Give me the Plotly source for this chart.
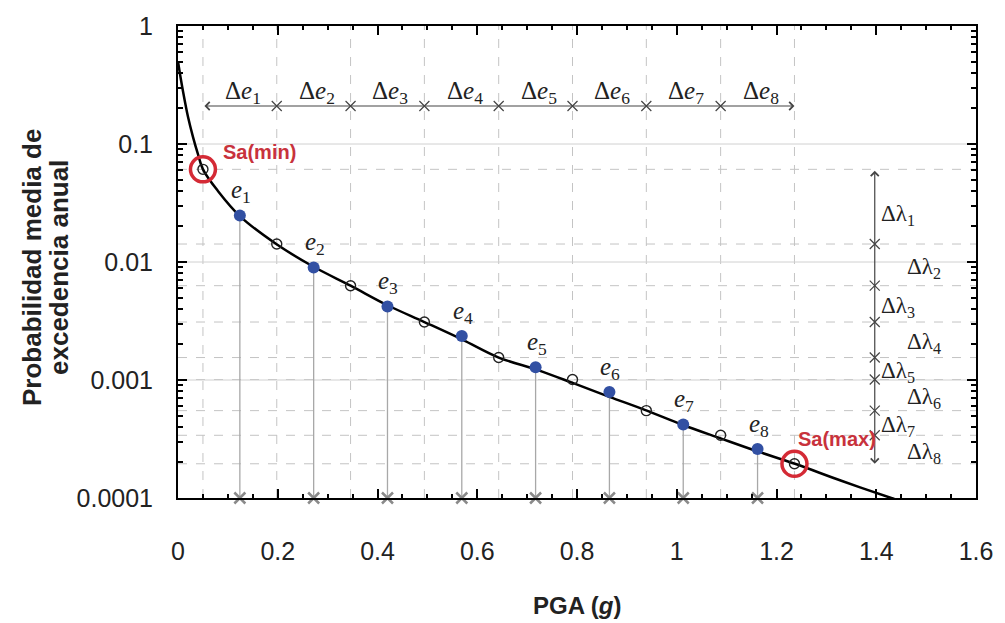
import numpy as np
import plotly.graph_objects as go

# ---------------- data ----------------
curve_x = [0.0, 0.005, 0.01, 0.02, 0.03, 0.04, 0.05, 0.08, 0.124, 0.197, 0.27, 0.346,
           0.42, 0.494, 0.57, 0.643, 0.72, 0.79, 0.865, 0.94, 1.01, 1.088, 1.16, 1.237,
           1.33, 1.43, 1.5]
curve_y = [0.5, 0.37, 0.28, 0.17, 0.115, 0.082, 0.061, 0.04, 0.0245, 0.0142, 0.0092, 0.0063,
           0.0043, 0.0031, 0.0022, 0.00155, 0.00122, 0.00095, 0.00072, 0.00055, 0.00042,
           0.00032, 0.00025, 0.000195, 0.00014, 0.0001, 0.00008]

bound_x = [0.05, 0.198, 0.346, 0.494, 0.643, 0.791, 0.939, 1.088, 1.236]
bound_y = [0.061, 0.0142, 0.0063, 0.0031, 0.00155, 0.00101, 0.00055, 0.00034, 0.000195]

e_x = [0.124, 0.272, 0.42, 0.569, 0.717, 0.865, 1.013, 1.162]
e_y = [0.0248, 0.0090, 0.0042, 0.00236, 0.00128, 0.00079, 0.00042, 0.00026]

e_labels = [f"<i>e</i><sub>{i}</sub>" for i in range(1, 9)]
de_labels = [f"Δ<i>e</i><sub>{i}</sub>" for i in range(1, 9)]
dl_labels = [f"Δλ<sub>{i}</sub>" for i in range(1, 9)]

x_ticks = [0, 0.2, 0.4, 0.6, 0.8, 1.0, 1.2, 1.4, 1.6]
x_ticktext = ["0", "0.2", "0.4", "0.6", "0.8", "1", "1.2", "1.4", "1.6"]
y_ticks = [0.0001, 0.001, 0.01, 0.1, 1]
y_ticktext = ["0.0001", "0.001", "0.01", "0.1", "1"]

y_title_lines = ["Probabilidad media de", "excedencia anual"]
x_title = "PGA (<i>g</i>)"

de_arrow_y = 0.21       # level of the Δe arrow
dl_arrow_x = 1.397      # position of the Δλ arrow
x_min, x_max = 0.0, 1.6
y_min, y_max = 0.0001, 1.0

# ---------------- figure ----------------
fig = go.Figure()

GRID = "#c4c4c4"
vx, vy = [], []
for b in bound_x:
    vx += [b, b, None]
    vy += [y_min, y_max, None]
fig.add_trace(go.Scatter(x=vx, y=vy, mode="lines",
                         line=dict(color=GRID, width=1, dash="dash"), hoverinfo="skip"))
hx, hy = [], []
for b in bound_y:
    hx += [x_min, x_max, None]
    hy += [b, b, None]
fig.add_trace(go.Scatter(x=hx, y=hy, mode="lines",
                         line=dict(color=GRID, width=1, dash="dash"), hoverinfo="skip"))
dx, dy = [], []
for t in y_ticks[1:-1]:
    dx += [x_min, x_max, None]
    dy += [t, t, None]
fig.add_trace(go.Scatter(x=dx, y=dy, mode="lines",
                         line=dict(color="#d0d0d0", width=1), hoverinfo="skip"))

sx, sy = [], []
for xx, yy in zip(e_x, e_y):
    sx += [xx, xx, None]
    sy += [y_min, yy, None]
fig.add_trace(go.Scatter(x=sx, y=sy, mode="lines",
                         line=dict(color="#a8a8a8", width=1.3), hoverinfo="skip"))

fig.add_trace(go.Scatter(x=curve_x, y=curve_y, mode="lines", line_shape="spline",
                         line=dict(color="black", width=2.5), hoverinfo="skip"))

fig.add_trace(go.Scatter(x=bound_x, y=bound_y, mode="markers",
                         marker=dict(symbol="circle-open", size=10, color="#222",
                                     line=dict(width=1.4)), hoverinfo="skip"))
fig.add_trace(go.Scatter(x=[bound_x[0], bound_x[-1]], y=[bound_y[0], bound_y[-1]],
                         mode="markers",
                         marker=dict(symbol="circle-open", size=25, color="#d42a35",
                                     line=dict(width=3.5)), hoverinfo="skip"))
fig.add_trace(go.Scatter(x=e_x, y=e_y, mode="markers",
                         marker=dict(symbol="circle", size=12, color="#3250a3"),
                         hoverinfo="skip"))
fig.add_trace(go.Scatter(x=e_x, y=[y_min] * len(e_x), mode="markers", cliponaxis=False,
                         marker=dict(symbol="x-thin", size=11, color="#8a8a8a",
                                     line=dict(width=2.5, color="#8a8a8a")),
                         hoverinfo="skip"))
fig.add_trace(go.Scatter(x=bound_x[1:-1], y=[de_arrow_y] * (len(bound_x) - 2), mode="markers",
                         marker=dict(symbol="x-thin", size=10, line=dict(width=1.2, color="#444")),
                         hoverinfo="skip"))
fig.add_trace(go.Scatter(x=[dl_arrow_x] * (len(bound_y) - 2), y=bound_y[1:-1], mode="markers",
                         marker=dict(symbol="x-thin", size=10, line=dict(width=1.2, color="#444")),
                         hoverinfo="skip"))

ann = []
ann.append(dict(x=bound_x[-1], y=np.log10(de_arrow_y), ax=bound_x[0], ay=np.log10(de_arrow_y),
                xref="x", yref="y", axref="x", ayref="y", text="", showarrow=True,
                arrowhead=4, startarrowhead=4, arrowside="end+start", arrowwidth=1.2,
                arrowsize=1.3, startarrowsize=1.3, arrowcolor="#444"))
ann.append(dict(x=dl_arrow_x, y=np.log10(bound_y[-1]), ax=dl_arrow_x, ay=np.log10(bound_y[0]),
                xref="x", yref="y", axref="x", ayref="y", text="", showarrow=True,
                arrowhead=4, startarrowhead=4, arrowside="end+start", arrowwidth=1.2,
                arrowsize=1.3, startarrowsize=1.3, arrowcolor="#444"))

SERIF = "Liberation Serif, Times New Roman, serif"
SANS = "Liberation Sans, Arial, sans-serif"
for i, lab in enumerate(de_labels):
    mid = (bound_x[i] + bound_x[i + 1]) / 2
    ann.append(dict(x=mid, y=np.log10(de_arrow_y), xref="x", yref="y", text=lab,
                    showarrow=False, yanchor="middle", yshift=13, xshift=3,
                    font=dict(family=SERIF, size=25, color="#222")))
for i, lab in enumerate(dl_labels):
    mid = (np.log10(bound_y[i]) + np.log10(bound_y[i + 1])) / 2
    ann.append(dict(x=dl_arrow_x, y=mid, xref="x", yref="y", text=lab, showarrow=False,
                    xanchor="left", xshift=(4 if i % 2 == 0 else 30),
                    yshift=(-8 if i == 0 else -3),
                    font=dict(family=SERIF, size=23, color="#222")))
for xx, yy, lab in zip(e_x, e_y, e_labels):
    ann.append(dict(x=xx, y=np.log10(yy), xref="x", yref="y", text=lab, showarrow=False,
                    yanchor="middle", yshift=24, xshift=1,
                    font=dict(family=SERIF, size=25, color="#222")))

RED = "#c8323c"
ann.append(dict(x=bound_x[0], y=np.log10(bound_y[0]), xref="x", yref="y", text="<b>Sa(min)</b>",
                showarrow=False, xanchor="left", yanchor="middle", xshift=18, yshift=17,
                font=dict(family=SANS, size=20, color=RED)))
ann.append(dict(x=bound_x[-1], y=np.log10(bound_y[-1]), xref="x", yref="y", text="<b>Sa(max)</b>",
                showarrow=False, xanchor="left", yanchor="middle", xshift=2, yshift=25,
                font=dict(family=SANS, size=20, color=RED)))

# axis titles
ann.append(dict(x=0, y=0.5, xref="paper", yref="paper", text=f"<b>{y_title_lines[0]}</b>",
                showarrow=False, textangle=-90, xanchor="center", yanchor="middle",
                xshift=-146, yshift=-6, font=dict(family=SANS, size=26, color="#222")))
ann.append(dict(x=0, y=0.5, xref="paper", yref="paper", text=f"<b>{y_title_lines[1]}</b>",
                showarrow=False, textangle=-90, xanchor="center", yanchor="middle",
                xshift=-119, yshift=-6, font=dict(family=SANS, size=26, color="#222")))
ann.append(dict(x=0.5, y=0, xref="paper", yref="paper", text=f"<b>{x_title}</b>",
                showarrow=False, xanchor="center", yanchor="middle",
                yshift=-107, font=dict(family=SANS, size=24, color="#222")))

minor_y = [k * 10.0 ** n for n in range(-4, 0) for k in range(2, 10)]

fig.update_layout(
    width=1005, height=623,
    margin=dict(l=178, r=23, t=22, b=125),
    paper_bgcolor="white", plot_bgcolor="white",
    showlegend=False,
    annotations=ann,
    font=dict(family=SANS, color="#222"),
    xaxis=dict(range=[x_min, x_max], tickvals=x_ticks, ticktext=x_ticktext,
               ticks="inside", ticklen=9, tickwidth=1.5, tickcolor="black",
               minor=dict(dtick=0.05, ticks="inside", ticklen=4, tickcolor="black", showgrid=False),
               showline=True, linecolor="black", linewidth=2, mirror="ticks",
               showgrid=False, zeroline=False,
               tickfont=dict(size=25, color="#222"), ticklabelstandoff=30),
    yaxis=dict(type="log", range=[-4, 0], tickvals=y_ticks, ticktext=y_ticktext,
               ticks="inside", ticklen=9, tickwidth=1.5, tickcolor="black",
               minor=dict(tickvals=minor_y, ticks="inside", ticklen=5, tickcolor="black", showgrid=False),
               showline=True, linecolor="black", linewidth=2, mirror="ticks",
               showgrid=False, zeroline=False,
               tickfont=dict(size=25, color="#222"), ticklabelstandoff=18),
)

fig.write_html("out.html", config={"displayModeBar": False},
               post_script="document.body.style.margin='0';")
